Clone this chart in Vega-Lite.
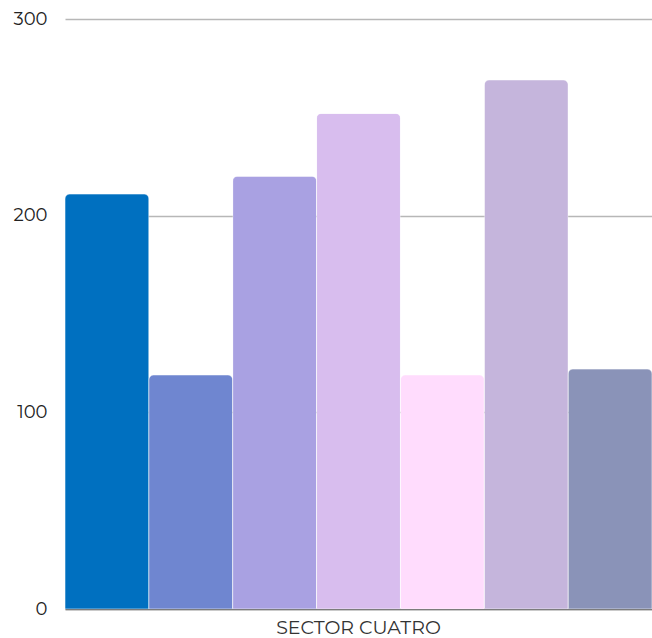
{
  "$schema": "https://vega.github.io/schema/vega-lite/v6.json",
  "width": 587,
  "height": 590,
  "autosize": "none",
  "padding": {"left": 65, "top": 19, "right": 0, "bottom": 29},
  "background": "white",
  "data": {"values": [
    {"sector": "SECTOR CUATRO", "serie": "S1", "valor": 211},
    {"sector": "SECTOR CUATRO", "serie": "S2", "valor": 119},
    {"sector": "SECTOR CUATRO", "serie": "S3", "valor": 220},
    {"sector": "SECTOR CUATRO", "serie": "S4", "valor": 252},
    {"sector": "SECTOR CUATRO", "serie": "S5", "valor": 119},
    {"sector": "SECTOR CUATRO", "serie": "S6", "valor": 269},
    {"sector": "SECTOR CUATRO", "serie": "S7", "valor": 122}
  ]},
  "mark": {"type": "bar", "cornerRadiusTopLeft": 5, "cornerRadiusTopRight": 5, "stroke": "#ffffff", "strokeWidth": 0.6, "strokeOpacity": 0.5},
  "encoding": {
    "x": {"field": "sector", "type": "nominal", "scale": {"paddingInner": 0, "paddingOuter": 0},
      "axis": {"title": null, "labelAngle": 0, "labelFont": "Montserrat, Lato, sans-serif", "labelFontSize": 19, "labelColor": "#333333", "ticks": false, "labelPadding": 9, "domainColor": "#666666", "domainWidth": 1.5}},
    "xOffset": {"field": "serie", "type": "nominal", "scale": {"paddingInner": 0, "paddingOuter": 0}},
    "y": {"field": "valor", "type": "quantitative", "scale": {"domain": [0, 300]},
      "axis": {"title": null, "values": [0, 100, 200, 300], "domain": false, "ticks": false, "labelPadding": 18, "labelFont": "Montserrat, Lato, sans-serif", "labelFontSize": 18, "labelColor": "#222222", "gridColor": "#b7b7b7", "gridWidth": 1.5}},
    "color": {"field": "serie", "type": "nominal", "legend": null,
      "scale": {"domain": ["S1","S2","S3","S4","S5","S6","S7"], "range": ["#0070c0", "#6f86d0", "#a9a1e2", "#d8bdee", "#ffdcfd", "#c5b5dc", "#8a93b8"]}}
  },
  "config": {"view": {"stroke": null}}
}
